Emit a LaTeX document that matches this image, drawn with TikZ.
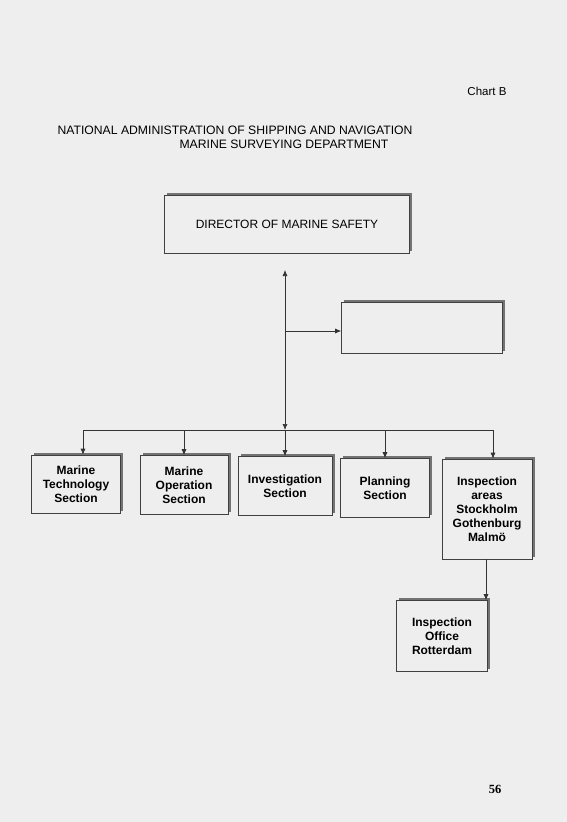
\documentclass[tikz,border=0pt]{standalone}
\usepackage{fontspec}
\setmainfont{Liberation Sans}
\newfontfamily\pagefont{Liberation Serif}
\usepackage{tikz}
\usetikzlibrary{positioning,shadows,arrows.meta}
\definecolor{paper}{RGB}{238,238,238}

\begin{document}
\begin{tikzpicture}[x=1pt,y=-1pt]
		\tikzset{box style/.style={draw=black!75, line width=0.6pt,
				fill=paper, align=center,
				font=\fontsize{12}{14}\selectfont\bfseries,
				drop shadow={shadow xshift=2.5pt, shadow yshift=2.5pt,
					fill=black!55, opacity=1}},
			link/.style={draw=black!80, line width=0.7pt},
			tip/.style={-{Latex[length=6pt,width=5pt]}}}

		% Page
		\fill[paper] (0,0) rectangle (567,822);
		\useasboundingbox (0,0) rectangle (567,822);

		% Headings
		\node[anchor=east, font=\fontsize{11.5}{13}\selectfont] (chart) at (510,91) {Chart B};
		\node[anchor=west, font=\fontsize{12.2}{14}\selectfont] (title) at (54,130) {NATIONAL ADMINISTRATION OF SHIPPING AND NAVIGATION};
		\node[anchor=west, font=\fontsize{12.2}{14}\selectfont] (dept) at (176,144) {MARINE SURVEYING DEPARTMENT};

		% Draw the boxes
		\node[box style, minimum width=245pt, minimum height=58pt,
			font=\fontsize{12}{14}\selectfont] at (287,224) (director) {DIRECTOR OF MARINE SAFETY};
		\node[box style, minimum width=161pt, minimum height=51pt] at (422,328) (blank) {};
		\node[box style, minimum width=89pt, minimum height=58pt] at (76,484) (tech) {Marine\\Technology\\Section};
		\node[box style, minimum width=88pt, minimum height=59pt] at (184,485) (oper) {Marine\\Operation\\Section};
		\node[box style, minimum width=94pt, minimum height=59pt] at (285,486) (invest) {Investigation\\Section};
		\node[box style, minimum width=89pt, minimum height=59pt] at (385,488) (plan) {Planning\\Section};
		\node[box style, minimum width=90pt, minimum height=100pt] at (487,509) (areas) {Inspection\\areas\\Stockholm\\Gothenburg\\Malm\"o};
		\node[box style, minimum width=91pt, minimum height=71pt] at (442,636) (office) {Inspection\\Office\\Rotterdam};

		% Points on the lines
		\coordinate (up) at (285,270);
		\coordinate (fork) at (285,331);
		\coordinate (hub) at (285,430);
		\coordinate (b1) at (83,430);
		\coordinate (b2) at (184,430);
		\coordinate (b4) at (385,430);
		\coordinate (b5) at (493,430);
		\coordinate (down) at (486,559);

		% Connect the boxes with arrows
		\draw[link, {Latex[length=6pt,width=5pt]}-{Latex[length=6pt,width=5pt]}] (up) -- (hub);
		\draw[link, tip] (fork) -- (fork -| blank.west);
		\draw[link] (b1) -- (b5);
		\draw[link, tip] (b1) -- (b1 |- tech.north);
		\draw[link, tip] (b2) -- (b2 |- oper.north);
		\draw[link, tip] (hub) -- (invest.north);
		\draw[link, tip] (b4) -- (b4 |- plan.north);
		\draw[link, tip] (b5) -- (b5 |- areas.north);
		\draw[link, tip] (down) -- (down |- office.north);

		% Page number
		\node[font=\pagefont\fontsize{12.5}{14}\selectfont\bfseries] (page) at (495,789) {56};
\end{tikzpicture}
\end{document}
